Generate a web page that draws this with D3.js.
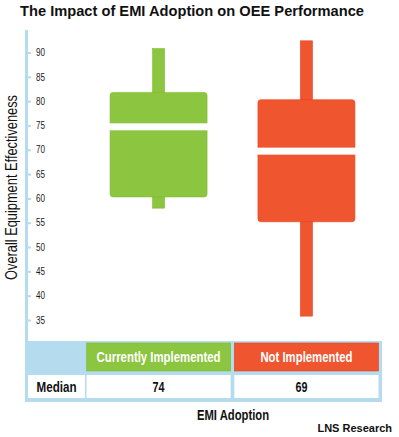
<!DOCTYPE html>
<html>
<head>
<meta charset="utf-8">
<script src="https://cdn.jsdelivr.net/npm/d3@7"></script>
<style>
  html, body { margin: 0; padding: 0; background: #fff; }
  svg { display: block; }
  .narrow { font-family: "Liberation Sans Narrow", "Arial Narrow", "Liberation Sans", Arial, sans-serif; }
</style>
</head>
<body>
<div id="grafico"></div>
<script>
// ---- dados ----
const categorias = ["Currently Implemented", "Not Implemented"];
const minimos = [58, 35.8];
const q1 = [60.3, 55.2];
const medianas = [74, 69];
const q3 = [81.8, 80.3];
const maximos = [90.8, 92.4];
const ticksY = [35, 40, 45, 50, 55, 60, 65, 70, 75, 80, 85, 90];
const cores = ["#8cc53f", "#ef5630"];
const bordas = ["#7dbb2e", "#e6401b"];
const largurasRotulo = [124, 92];

const width = 399, height = 437;
const azul = "#b4dcee";

const svg = d3.select("#grafico").append("svg")
  .attr("width", width).attr("height", height)
  .attr("viewBox", [0, 0, width, height]);

const y = d3.scaleLinear().domain([35, 90]).range([320, 52.5]);
const x = d3.scaleBand().domain(categorias).range([86.5, 378.5]).paddingInner(0.025);

// titulo
svg.append("text")
  .attr("x", 20).attr("y", 16)
  .attr("font-family", "Liberation Sans, Arial, sans-serif")
  .attr("font-size", 14).attr("font-weight", "bold").attr("fill", "#111")
  .attr("textLength", 344).attr("lengthAdjust", "spacingAndGlyphs")
  .text("The Impact of EMI Adoption on OEE Performance");

// eixo y
svg.append("rect").attr("x", 25).attr("y", 30).attr("width", 3).attr("height", 312).attr("fill", azul);

const eixo = svg.append("g").attr("transform", "translate(28,0)")
  .call(d3.axisRight(y).tickValues(ticksY).tickSize(3).tickPadding(5));
eixo.select(".domain").remove();
eixo.selectAll(".tick line").attr("stroke", azul).attr("stroke-width", 2);
eixo.selectAll(".tick text")
  .attr("class", "narrow")
  .attr("font-size", 10).attr("fill", "#1a1a1a")
  .attr("textLength", 9).attr("lengthAdjust", "spacingAndGlyphs");

svg.append("text")
  .attr("class", "narrow")
  .attr("transform", "translate(17,187.5) rotate(-90)")
  .attr("text-anchor", "middle")
  .attr("font-size", 16).attr("fill", "#111")
  .attr("textLength", 185).attr("lengthAdjust", "spacingAndGlyphs")
  .text("Overall Equipment Effectiveness");

// caixas
const larguraCaixa = 97, larguraBigode = 12, gap = 7;
categorias.forEach((c, i) => {
  const cx = x(c) + x.bandwidth() / 2;
  const g = svg.append("g");
  g.append("rect")
    .attr("x", cx - larguraBigode / 2).attr("width", larguraBigode)
    .attr("y", y(maximos[i])).attr("height", y(minimos[i]) - y(maximos[i]))
    .attr("fill", cores[i]).attr("stroke", bordas[i]).attr("stroke-width", 0.6);
  g.append("rect")
    .attr("x", cx - larguraCaixa / 2).attr("width", larguraCaixa)
    .attr("y", y(q3[i])).attr("height", y(q1[i]) - y(q3[i]))
    .attr("rx", 3)
    .attr("fill", cores[i]).attr("stroke", bordas[i]).attr("stroke-width", 0.6);
  g.append("rect")
    .attr("x", cx - larguraCaixa / 2 - 1).attr("width", larguraCaixa + 2)
    .attr("y", y(medianas[i]) - gap).attr("height", gap)
    .attr("fill", "#fff");
});

// tabela
svg.append("rect").attr("x", 25).attr("y", 341).attr("width", 357).attr("height", 61).attr("fill", azul);
svg.append("rect").attr("x", 28).attr("y", 375).attr("width", 57).attr("height", 23).attr("fill", "#fff");
svg.append("text").attr("class", "narrow")
  .attr("x", 56.5).attr("y", 392).attr("text-anchor", "middle")
  .attr("font-size", 14).attr("font-weight", "bold").attr("fill", "#111")
  .attr("textLength", 40).attr("lengthAdjust", "spacingAndGlyphs")
  .text("Median");

categorias.forEach((c, i) => {
  const x0 = x(c), w = x.bandwidth();
  svg.append("rect").attr("x", x0).attr("y", 343).attr("width", w).attr("height", 28)
    .attr("fill", cores[i]).attr("stroke", bordas[i]).attr("stroke-width", 0.6);
  svg.append("text").attr("class", "narrow")
    .attr("x", x0 + w / 2).attr("y", 362).attr("text-anchor", "middle")
    .attr("font-size", 14).attr("font-weight", "bold").attr("fill", "#fff")
    .attr("textLength", largurasRotulo[i]).attr("lengthAdjust", "spacingAndGlyphs")
    .text(c);
  svg.append("rect").attr("x", x0).attr("y", 375).attr("width", w).attr("height", 23).attr("fill", "#fff");
  svg.append("text").attr("class", "narrow")
    .attr("x", x0 + w / 2 - (i ? 5 : 0)).attr("y", 392).attr("text-anchor", "middle")
    .attr("font-size", 14).attr("font-weight", "bold").attr("fill", "#111")
    .attr("textLength", 12).attr("lengthAdjust", "spacingAndGlyphs")
    .text(medianas[i]);
});

// eixo x
svg.append("text").attr("class", "narrow")
  .attr("x", 233).attr("y", 420).attr("text-anchor", "middle")
  .attr("font-size", 14).attr("font-weight", "bold").attr("fill", "#111")
  .attr("textLength", 72).attr("lengthAdjust", "spacingAndGlyphs")
  .text("EMI Adoption");

svg.append("text")
  .attr("x", 392).attr("y", 432).attr("text-anchor", "end")
  .attr("font-family", "Liberation Sans, Arial, sans-serif")
  .attr("font-size", 11).attr("font-weight", "bold").attr("fill", "#111")
  .text("LNS Research");
</script>
</body>
</html>
